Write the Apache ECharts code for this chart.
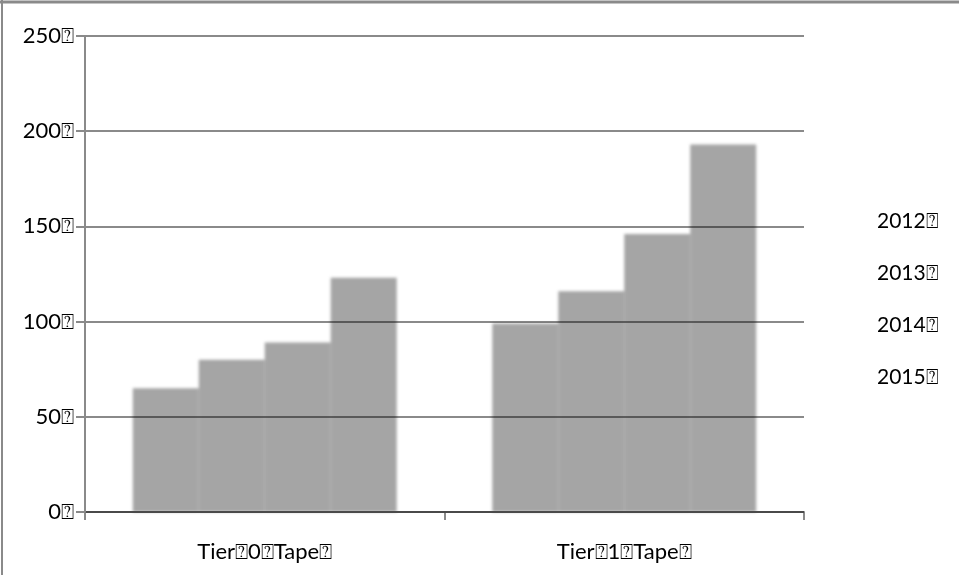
<!DOCTYPE html>
<html>
<head>
<meta charset="utf-8">
<script src="https://cdn.jsdelivr.net/npm/echarts@6/dist/echarts.min.js"></script>
<style>
  html, body { margin: 0; padding: 0; background: #fff; }
  #wrap { position: relative; width: 959px; height: 575px; }
  #bars, #axes { position: absolute; left: 0; top: 0; width: 959px; height: 575px; }
  #bars { filter: blur(1.8px); }
</style>
</head>
<body>
<div id="wrap">
  <div id="bars"></div>
  <div id="axes"></div>
</div>
<script>
// Tape capacity per tier and year
const BOX = '\u2370';
const categories = ['Tier' + BOX + '0' + BOX + 'Tape' + BOX, 'Tier' + BOX + '1' + BOX + 'Tape' + BOX];
const years = ['2012', '2013', '2014', '2015'];
const values2012 = [65, 99];
const values2013 = [80, 116];
const values2014 = [89, 146];
const values2015 = [123, 193];
const yTicks = [0, 50, 100, 150, 200, 250];

const seriesValues = [values2012, values2013, values2014, values2015];
const FONT = 'Lato';
const GRID = { left: 85, right: 155, top: 36, bottom: 63 };

function barSeries(color) {
  return years.map((y, i) => ({
    name: y + BOX,
    type: 'bar',
    data: seriesValues[i],
    barGap: '0%',
    barCategoryGap: '26.6%',
    itemStyle: { color: color },
    emphasis: { disabled: true },
    animation: false
  }));
}

// Bottom layer: the soft grey bars
const barsChart = echarts.init(document.getElementById('bars'));
barsChart.setOption({
  animation: false,
  grid: GRID,
  xAxis: { type: 'category', data: categories, show: false },
  yAxis: { type: 'value', min: 0, max: 250, interval: 50, show: false },
  series: barSeries('#a5a5a5')
});

// Top layer: axes, gridlines, labels and legend
const axesChart = echarts.init(document.getElementById('axes'));
axesChart.setOption({
  animation: false,
  grid: GRID,
  legend: {
    orient: 'vertical',
    left: 867,
    top: 206,
    itemWidth: 0,
    itemHeight: 0,
    itemGap: 31,
    selectedMode: false,
    textStyle: { fontFamily: FONT, fontSize: 21, color: '#000', padding: 0 },
    data: years.map(y => y + BOX)
  },
  xAxis: {
    type: 'category',
    data: categories,
    axisLine: { lineStyle: { color: '#8a8a8a', width: 2 } },
    axisTick: { show: true, length: 8, lineStyle: { color: '#8a8a8a', width: 2 } },
    axisLabel: { fontFamily: FONT, fontSize: 22, color: '#000', margin: 29 }
  },
  yAxis: {
    type: 'value',
    min: yTicks[0],
    max: yTicks[yTicks.length - 1],
    interval: 50,
    z: 3,
    axisLine: { show: true, lineStyle: { color: '#8a8a8a', width: 2 } },
    axisTick: { show: true, length: 9, lineStyle: { color: '#8a8a8a', width: 2 } },
    axisLabel: {
      fontFamily: FONT, fontSize: 22, color: '#000', margin: 11,
      formatter: v => v + BOX
    },
    splitLine: { show: true, lineStyle: { color: 'rgba(0,0,0,0.46)', width: 2 } }
  },
  series: barSeries('rgba(0,0,0,0)'),
  graphic: [
    { type: 'line', shape: { x1: 0, y1: 2, x2: 959, y2: 2 }, style: { stroke: '#8a8a8a', lineWidth: 3 }, silent: true },
    { type: 'line', shape: { x1: 2, y1: 0, x2: 2, y2: 575 }, style: { stroke: '#8a8a8a', lineWidth: 2 }, silent: true }
  ]
});
</script>
</body>
</html>
